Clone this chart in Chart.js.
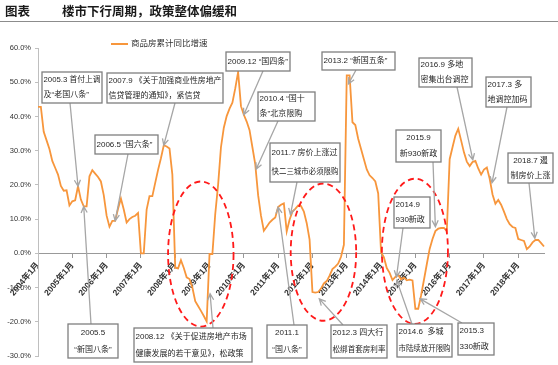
<!DOCTYPE html>
<html>
<head>
<meta charset="utf-8">
<script src="https://cdn.jsdelivr.net/npm/chart.js@4.4.0/dist/chart.umd.min.js"></script>
<style>
  body { margin: 0; background: #fff; }
  #wrap { position: relative; width: 558px; height: 365px; }
  canvas { position: absolute; left: 0; top: 0; }
  #title { position: absolute; left: 0; top: 0; width: 558px; height: 21px; border-bottom: 1px solid #8c8c8c;
           font: bold 12.5px "Noto Sans CJK SC", sans-serif; color: #1a1a1a; line-height: 21px; }
  #title span { position: absolute; top: 0; }
</style>
</head>
<body>
<div id="wrap">
  <canvas id="myChart" width="558" height="365"></canvas>
  <div id="title"><span style="left:5px">图表</span><span style="left:62px">楼市下行周期，政策整体偏缓和</span></div>
</div>
<script>
// 商品房累计同比增速 (%), monthly
const y2004 = [42.8, 42.8, 35.5, 33, 30.5, 27, 25, 23, 19.7, 18.3, 18.4, 14];
const y2005 = [15.2, 15.5, 19.6, 15.7, 13.7, 13.7, 22.5, 24.3, 23.3, 22.3, 21, 17];
const y2006 = [11, 7.8, 9.5, 9.5, 13, 16, 12.8, 9, 10, 10.6, 11, 11.8];
const y2007 = [0, 0, 12.8, 16.7, 16.7, 20.6, 24.4, 27.8, 31.6, 31.2, 30.6, 23];
const y2008 = [-4.2, -4.4, -2, -4.3, -7, -7.5, -10, -14, -15.4, -16.8, -18.3, -19.9];
const y2009 = [-0.2, -0.2, 11.5, 20, 31, 36.7, 40.1, 42.3, 44, 48.2, 53, 43];
const y2010 = [40.5, 38.5, 36, 31, 26, 17, 11, 6.6, 7.8, 9, 9.8, 10.5];
const y2011 = [13.5, 14.2, 14.6, 6.4, 9.8, 12.2, 13, 14, 13.8, 12.2, 8.8, 4];
const y2012 = [-11.3, -11.5, -11.3, -10.3, -8.8, -8.1, -6.5, -4.6, -3.9, -3, -1, 2.5];
const y2013 = [52, 52, 38.3, 37.5, 33.5, 30.5, 27.5, 24.5, 22.8, 22, 21, 17.5];
const y2014 = [0.3, -1.2, -4.3, -5.7, -7.8, -6.9, -6.3, -7.6, -7.1, -7.9, -7.7, -7.9];
const y2015 = [-16.2, -16.2, -12.3, -7.8, -3.2, 1.3, 4.2, 6.5, 7.2, 7.4, 7.4, 6.5];
const y2016 = [27.5, 31, 34.4, 36.4, 33, 29.5, 26.8, 25.5, 26.7, 27, 24.8, 23];
const y2017 = [24.5, 25.1, 21.8, 17.2, 14.5, 15.6, 14.2, 12.2, 10, 8.5, 7.7, 7.4];
const y2018 = [4.2, 3.9, 3.6, 1.2, 2, 3.2, 3.9, 3.9, 3, 2];

const years = [2004, 2005, 2006, 2007, 2008, 2009, 2010, 2011, 2012, 2013, 2014, 2015, 2016, 2017, 2018];
const byYear = [y2004, y2005, y2006, y2007, y2008, y2009, y2010, y2011, y2012, y2013, y2014, y2015, y2016, y2017, y2018];

const labels = [];
const values = [];
byYear.forEach((arr, k) => {
  arr.forEach((v, m) => {
    labels.push(years[k] + '年' + (m + 1) + '月');
    values.push(v);
  });
});

const yTicks = [60, 50, 40, 30, 20, 10, 0, -10, -20, -30];

// policy notes: box in page px, arrow start on box edge, arrow tip at month index / value
const notes = [
  { lines: ['2005.3 首付上调', '及“老国八条”'], box: [42, 72, 60, 31], from: [70, 103], i: 14 },
  { lines: ['2007.9 《关于加强商业性房地产', '信贷管理的通知》，紧信贷'], box: [107, 73, 116, 30], from: [175, 103], i: 44 },
  { lines: ['2006.5 “国六条”'], box: [95, 135, 63, 19], from: [128, 154], i: 27 },
  { lines: ['2005.5', '“新国八条”'], box: [68, 324, 50, 34], from: [91, 324], i: 16, center: true },
  { lines: ['2008.12 《关于促进房地产市场', '健康发展的若干意见》，松政策'], box: [134, 328, 118, 34], from: [213, 328], i: 60.2, v: -11.8 },
  { lines: ['2009.12 “国四条”'], box: [226, 52, 64, 19], from: [263, 71], i: 72 },
  { lines: ['2010.4 “国十', '条”北京限购'], box: [258, 92, 57, 29], from: [278, 121], i: 76.3, v: 24.6 },
  { lines: ['2011.7 房价上涨过', '快二三城市必须限购'], box: [270, 143, 70, 39], from: [297, 182], i: 88.3, v: 11.3 },
  { lines: ['2011.1', '“国八条”'], box: [267, 325, 40, 33], from: [294, 325], i: 84, center: true },
  { lines: ['2012.3 四大行', '松绑首套房利率'], box: [331, 325, 56, 33], from: [343, 325], i: 98.4, v: -13.3 },
  { lines: ['2013.2 “新国五条”'], box: [322, 52, 73, 18], from: [356, 70], i: 108.6, v: 49.5 },
  { lines: ['2015.9', '新930新政'], box: [396, 130, 45, 32], from: [433, 162], i: 139, v: 7.8, center: true },
  { lines: ['2014.9', '930新政'], box: [394, 197, 36, 31], from: [403, 228], i: 125.4, v: -6.9 },
  { lines: ['2014.6  多城', '市陆续放开限购'], box: [397, 324, 55, 33], from: [412, 324], i: 125.5, v: -7.9 },
  { lines: ['2015.3', '330新政'], box: [458, 323, 36, 32], from: [462, 323], i: 133.7, v: -13.3 },
  { lines: ['2016.9 多地', '密集出台调控'], box: [419, 58, 53, 29], from: [457, 87], i: 152.1, v: 27.3 },
  { lines: ['2017.3 多', '地调控加码'], box: [486, 77, 45, 30], from: [507, 107], i: 158.8, v: 20.6 },
  { lines: ['2018.7 遏', '制房价上涨'], box: [508, 153, 45, 30], from: [529, 183], i: 173.8, v: 4.4, center: true }
];

// dashed circles around the downturns (month index range, value range)
const rings = [
  { i0: 45.5, i1: 68.4, top: 21, bottom: -21.4 },
  { i0: 88.4, i1: 111.3, top: 20.4, bottom: -19.7 },
  { i0: 120.3, i1: 143.4, top: 21.8, bottom: -20.6 }
];

const FONT = '"Liberation Sans", "Noto Sans CJK SC", sans-serif';

function arrow(ctx, x0, y0, x1, y1) {
  const a = Math.atan2(y1 - y0, x1 - x0);
  const L = 7;
  ctx.beginPath();
  ctx.moveTo(x0, y0);
  ctx.lineTo(x1, y1);
  ctx.moveTo(x1 - L * Math.cos(a - 0.45), y1 - L * Math.sin(a - 0.45));
  ctx.lineTo(x1, y1);
  ctx.lineTo(x1 - L * Math.cos(a + 0.45), y1 - L * Math.sin(a + 0.45));
  ctx.stroke();
}

// draw text squeezed horizontally if it would run past the box
function fitText(ctx, t, x, y, maxW, align) {
  const w = ctx.measureText(t).width;
  const sx = w > maxW ? maxW / w : 1;
  ctx.save();
  ctx.translate(x, y);
  ctx.scale(sx, 1);
  ctx.textAlign = align;
  ctx.fillText(t, 0, 0);
  ctx.restore();
}

const notesPlugin = {
  id: 'notes',
  afterDatasetsDraw(chart) {
    const ctx = chart.ctx;
    const x = chart.scales.x, y = chart.scales.y;
    ctx.save();

    // legend
    ctx.strokeStyle = chart.data.datasets[0].borderColor;
    ctx.lineWidth = 2;
    ctx.beginPath(); ctx.moveTo(111, 44); ctx.lineTo(128, 44); ctx.stroke();
    ctx.fillStyle = '#333';
    ctx.font = '8.5px ' + FONT;
    ctx.textBaseline = 'middle';
    ctx.textAlign = 'left';
    ctx.fillText(chart.data.datasets[0].label, 131, 44);

    // rings
    ctx.strokeStyle = '#ff1a1a';
    ctx.lineWidth = 1.8;
    ctx.setLineDash([6, 4]);
    rings.forEach(r => {
      const xl = x.getPixelForValue(r.i0), xr = x.getPixelForValue(r.i1);
      const yt = y.getPixelForValue(r.top), yb = y.getPixelForValue(r.bottom);
      ctx.beginPath();
      ctx.ellipse((xl + xr) / 2, (yt + yb) / 2, (xr - xl) / 2, (yb - yt) / 2, 0, 0, Math.PI * 2);
      ctx.stroke();
    });
    ctx.setLineDash([]);

    // arrows
    ctx.strokeStyle = '#a6a6a6';
    ctx.lineWidth = 1.3;
    notes.forEach(n => {
      const v = n.v !== undefined ? n.v : values[Math.round(n.i)];
      arrow(ctx, n.from[0], n.from[1], x.getPixelForValue(n.i), y.getPixelForValue(v));
    });

    // boxes
    notes.forEach(n => {
      const [bx, by, bw, bh] = n.box;
      ctx.fillStyle = '#fff';
      ctx.fillRect(bx, by, bw, bh);
      ctx.strokeStyle = '#7f7f7f';
      ctx.lineWidth = 1.3;
      ctx.strokeRect(bx, by, bw, bh);
      ctx.fillStyle = '#262626';
      ctx.font = '8px ' + FONT;
      ctx.textBaseline = 'middle';
      n.lines.forEach((t, k) => {
        const ty = by + bh * (k + 0.5) / n.lines.length;
        if (n.center) fitText(ctx, t, bx + bw / 2, ty, bw - 3, 'center');
        else fitText(ctx, t, bx + 1.5, ty, bw - 3, 'left');
      });
    });
    ctx.restore();
  }
};

const ctx = document.getElementById('myChart').getContext('2d');
const myChart = new Chart(ctx, {
  type: 'line',
  data: {
    labels: labels,
    datasets: [{
      label: '商品房累计同比增速',
      data: values,
      borderColor: '#f7963c',
      borderWidth: 1.8,
      pointRadius: 0,
      tension: 0,
      fill: false
    }]
  },
  options: {
    responsive: false,
    animation: false,
    layout: { padding: { top: 48, right: 14, bottom: 9, left: 0 } },
    plugins: { legend: { display: false }, tooltip: { enabled: false } },
    scales: {
      x: {
        position: { y: 0 },
        grid: {
          drawOnChartArea: false,
          tickLength: 4,
          tickColor: c => (c.index % 12 === 0 ? '#999' : 'rgba(0,0,0,0)')
        },
        border: { color: '#999', width: 1 },
        ticks: {
          autoSkip: false,
          minRotation: 50,
          maxRotation: 50,
          padding: 3,
          color: '#333',
          font: { size: 8.5, weight: 'bold', family: FONT },
          callback: (val, idx) => (idx % 12 === 0 ? labels[idx] : '')
        },
        afterFit: s => { s.paddingLeft = 0; s.paddingRight = 0; }
      },
      y: {
        min: yTicks[yTicks.length - 1],
        max: yTicks[0],
        afterBuildTicks: s => { s.ticks = yTicks.map(v => ({ value: v })); },
        grid: { drawOnChartArea: false, tickLength: 3, color: '#bfbfbf' },
        border: { color: '#bfbfbf', width: 1 },
        ticks: {
          padding: 4,
          color: '#333',
          font: { size: 7.5, family: FONT },
          callback: v => v.toFixed(1) + '%'
        },
        afterFit: s => { s.width = 38; }
      }
    }
  },
  plugins: [notesPlugin]
});
</script>
</body>
</html>
